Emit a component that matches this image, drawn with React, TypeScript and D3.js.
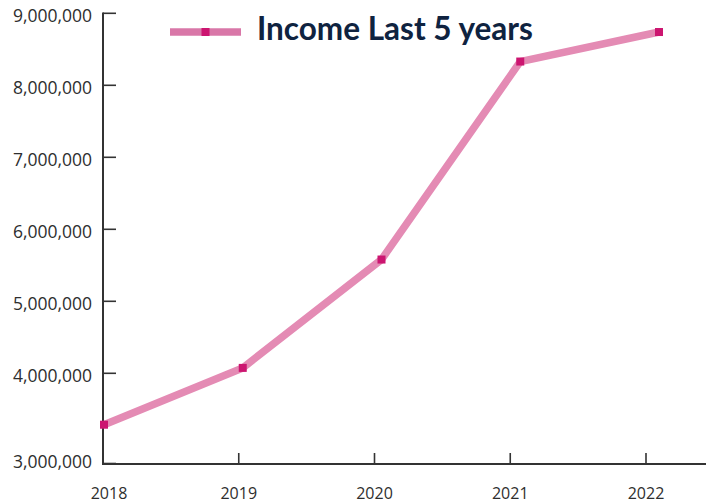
import React from "react";
import * as d3 from "d3";

// Income per year
const years = ["2018", "2019", "2020", "2021", "2022"];
const income = [3430000, 4075000, 5580000, 8330000, 8740000];
const yTicks = [3000000, 4000000, 5000000, 6000000, 7000000, 8000000, 9000000];
const title = "Income Last 5 years";

const W = 706;
const H = 504;

const LINE = "#e48bb4";
const LEGEND_LINE = "#d977a8";
const MARKER = "#cc1570";
const AXIS = "#333333";
const TEXT = "#2e2e2e";
const TITLE = "#0f2340";

export default function App() {
  const axisX = 103;
  const axisY = 464;

  // The lowest band (3M-4M) is drawn taller than the rest of the axis
  const y = d3
    .scaleLinear()
    .domain([3000000, 4000000, 9000000])
    .range([463.5, 373.3, 13.3]);

  const xTick = d3.scalePoint<string>().domain(years).range([103, 646]);
  const xData = d3.scalePoint<string>().domain(years).range([104, 659]);

  const fmt = d3.format(",");

  const line = d3
    .line<number>()
    .x((_, i) => xData(years[i]) as number)
    .y((d) => y(d));

  const legendX0 = 170;
  const legendX1 = 241;
  const legendY = 32;
  const m = 8;

  return (
    <svg
      width={W}
      height={H}
      style={{ position: "absolute", left: 0, top: 0, background: "#fff" }}
    >
      {/* y axis */}
      <line x1={axisX} x2={axisX} y1={12.5} y2={axisY + 1} stroke={AXIS} strokeWidth={2} />
      {yTicks.map((t) => (
        <g key={t}>
          <line x1={axisX} x2={axisX + 13} y1={y(t)} y2={y(t)} stroke={AXIS} strokeWidth={1.6} />
          <text
            x={92}
            y={t === 3000000 ? y(t) - 3 : y(t) + 1.5}
            textAnchor="end"
            dominantBaseline="central"
            fontFamily="'Open Sans', sans-serif"
            fontSize={17.5}
            fill={TEXT}
          >
            {fmt(t)}
          </text>
        </g>
      ))}

      {/* x axis */}
      <line x1={axisX - 1} x2={W} y1={axisY} y2={axisY} stroke={AXIS} strokeWidth={2} />
      {years.map((yr) => (
        <g key={yr}>
          <line
            x1={xTick(yr) as number}
            x2={xTick(yr) as number}
            y1={axisY}
            y2={axisY - 11}
            stroke={AXIS}
            strokeWidth={1.6}
          />
          <text
            x={(xTick(yr) as number) + (yr === "2018" ? 6 : 0)}
            y={493}
            textAnchor="middle"
            dominantBaseline="central"
            fontFamily="'Open Sans', sans-serif"
            fontSize={16}
            fill={TEXT}
          >
            {yr}
          </text>
        </g>
      ))}

      {/* series line */}
      <path d={line(income) ?? ""} fill="none" stroke={LINE} strokeWidth={7.5} />
      {income.map((v, i) => (
        <rect
          key={years[i]}
          x={(xData(years[i]) as number) - m / 2}
          y={y(v) - m / 2}
          width={m}
          height={m}
          fill={MARKER}
        />
      ))}

      {/* legend */}
      <line x1={legendX0} x2={legendX1} y1={legendY} y2={legendY} stroke={LEGEND_LINE} strokeWidth={7.3} />
      <rect
        x={(legendX0 + legendX1) / 2 - m / 2}
        y={legendY - m / 2}
        width={m}
        height={m}
        fill={MARKER}
      />
      <text
        x={257}
        y={40}
        fontFamily="Lato, sans-serif"
        fontWeight={700}
        fontSize={31.5}
        fill={TITLE}
      >
        {title}
      </text>
    </svg>
  );
}
